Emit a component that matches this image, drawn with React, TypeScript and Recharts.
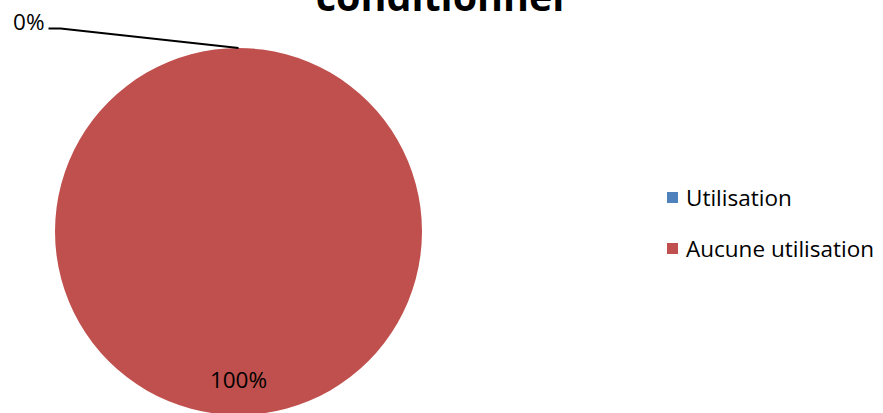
import React from "react";
import { PieChart, Pie, Cell, Legend } from "recharts";

const categories = ["Utilisation", "Aucune utilisation"];
const values = [0, 100];
const percentLabels = ["0%", "100%"];
const colors = ["#4F81BD", "#C0504D"];
const title = "conditionner";

const data = categories.map((name, i) => ({ name, value: values[i], label: percentLabels[i] }));

const FONT = "'Open Sans', 'Liberation Sans', sans-serif";

const renderLabel = (props: any) => {
  const { cx, cy, outerRadius, midAngle, index } = props;
  const RAD = Math.PI / 180;
  const text = percentLabels[index];
  if (values[index] === 0) {
    const px = cx + outerRadius * Math.cos(-midAngle * RAD);
    const py = cy + outerRadius * Math.sin(-midAngle * RAD);
    const ex = cx - outerRadius * 0.97;
    const ey = py - 19.5;
    return (
      <g key={`l${index}`}>
        <polyline points={`${px},${py} ${ex},${ey} ${ex - 12},${ey}`} fill="none" stroke="#000" strokeWidth={2} />
        <text x={ex - 16} y={ey + 1} textAnchor="end" fontSize={22.5} fontFamily={FONT} fill="#000">
          {text}
        </text>
      </g>
    );
  }
  const r = outerRadius * 0.82;
  const x = cx + r * Math.cos(-midAngle * RAD);
  const y = cy + r * Math.sin(-midAngle * RAD);
  return (
    <text key={`l${index}`} x={x} y={y} textAnchor="middle" dominantBaseline="middle" fontSize={22.5} fontFamily={FONT} fill="#000">
      {text}
    </text>
  );
};

const renderLegend = () => (
  <div style={{ fontFamily: FONT, fontSize: 22.5, color: "#000" }}>
    {data.map((d, i) => (
      <div key={d.name} style={{ display: "flex", alignItems: "center", height: 51 }}>
        <span style={{ display: "inline-block", width: 11, height: 11, background: colors[i], marginRight: 8 }} />
        <span>{d.name}</span>
      </div>
    ))}
  </div>
);

export default function App() {
  return (
    <div style={{ position: "relative", width: 883, height: 413, background: "#fff", overflow: "hidden" }}>
      <style>{`body{margin:0;}`}</style>
      <PieChart width={883} height={413} margin={{ top: 0, right: 0, bottom: 0, left: 0 }}>
        <text x={443} y={11} textAnchor="middle" fontSize={39.5} fontWeight="bold" fontFamily={FONT} fill="#000">
          {title}
        </text>
        <Pie
          data={data}
          dataKey="value"
          nameKey="name"
          cx={238.5}
          cy={231.5}
          outerRadius={183.5}
          startAngle={90}
          endAngle={-270}
          stroke="none"
          isAnimationActive={false}
          labelLine={false}
          label={renderLabel}
        >
          {data.map((d, i) => (
            <Cell key={d.name} fill={colors[i]} />
          ))}
        </Pie>
        <Legend
          layout="vertical"
          align="right"
          verticalAlign="top"
          content={renderLegend}
          wrapperStyle={{ left: 667, top: 172, width: 216 }}
        />
      </PieChart>
    </div>
  );
}
